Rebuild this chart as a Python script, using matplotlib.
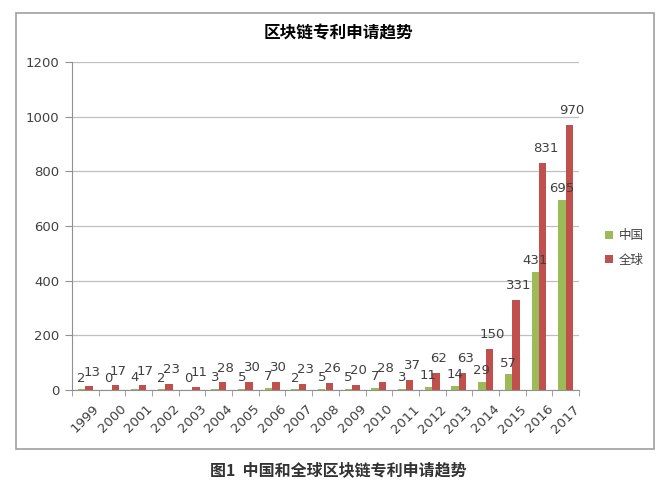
import matplotlib
matplotlib.use("Agg")
import matplotlib.pyplot as plt
from matplotlib.patches import Rectangle
import numpy as np

plt.rcParams['font.family'] = ['Noto Sans CJK SC', 'DejaVu Sans']

years = ['1999', '2000', '2001', '2002', '2003', '2004', '2005', '2006', '2007', '2008',
         '2009', '2010', '2011', '2012', '2013', '2014', '2015', '2016', '2017']
china = [2, 0, 4, 2, 0, 3, 5, 7, 2, 5, 5, 7, 3, 11, 14, 29, 57, 431, 695]
world = [13, 17, 17, 23, 11, 28, 30, 30, 23, 26, 20, 28, 37, 62, 63, 150, 331, 831, 970]
series_names = ['中国', '全球']
title = '区块链专利申请趋势'
caption = '图1  中国和全球区块链专利申请趋势'

green = '#9BBB59'
red = '#C0504D'
grid_c = '#BFBFBF'
text_c = '#404040'

fig = plt.figure(figsize=(6.7, 4.95), dpi=100)
fig.patch.set_facecolor('white')

# outer chart frame
fig.patches.append(Rectangle((16/670, 1-449/495), (654-16)/670, (449-13)/495,
                             transform=fig.transFigure, fill=False,
                             edgecolor='#A0A0A0', linewidth=1.2, zorder=0))

ax = fig.add_axes([72/670, 1-390/495, (579-72)/670, (390-62)/495])
x = np.arange(len(years))
w = 0.28
b1 = ax.bar(x - w/2, china, width=w, color=green, label=series_names[0], zorder=3)
b2 = ax.bar(x + w/2, world, width=w, color=red, label=series_names[1], zorder=3)

for xi, v in zip(x, china):
    ax.annotate(str(v), (xi - w/2, v), xytext=(0, 3.5), textcoords='offset points',
                ha='center', va='bottom', fontsize=9.5, color=text_c,
                family='DejaVu Sans', zorder=4)
for xi, v in zip(x, world):
    ax.annotate(str(v), (xi + w/2, v), xytext=(2, 5.5), textcoords='offset points',
                ha='center', va='bottom', fontsize=9.5, color=text_c,
                family='DejaVu Sans', zorder=4)

ax.set_xlim(-0.5, len(years) - 0.5)
ax.set_ylim(0, 1200)
ax.set_yticks(range(0, 1201, 200))
ax.yaxis.grid(True, color=grid_c, linewidth=0.9, zorder=0)
ax.set_axisbelow(True)
for s in ['top', 'right']:
    ax.spines[s].set_visible(False)
ax.spines['left'].set_color('#909090')
ax.spines['bottom'].set_color('#909090')

ax.set_xticks(x)
ax.set_xticklabels(years, rotation=45, ha='center', va='top',
                   fontsize=9.5, color=text_c, family='DejaVu Sans')
ax.set_xticks(np.arange(-0.5, len(years), 1), minor=True)
ax.tick_params(axis='x', which='major', length=0, pad=9)
ax.tick_params(axis='x', which='minor', length=4, color='#909090')
ax.tick_params(axis='y', length=5, color='#909090', labelsize=9.5, labelcolor=text_c, pad=4)
for lab in ax.get_yticklabels():
    lab.set_family('DejaVu Sans')

leg = fig.legend(handles=[b1, b2], labels=series_names, loc='center left',
                 bbox_to_anchor=(594/670, 1-248/495), frameon=False,
                 fontsize=9, handlelength=0.6, handleheight=0.6,
                 handletextpad=0.5, labelspacing=0.9)
for t in leg.get_texts():
    t.set_color(text_c)

fig.text(338/670, 1-33/495, title, ha='center', va='center', fontsize=12,
         fontweight='bold', color='black')
fig.text(338/670, 1-470/495, caption, ha='center', va='center', fontsize=11.5,
         fontweight='bold', color='#333333')

fig.savefig('out.png', dpi=100, facecolor='white')
